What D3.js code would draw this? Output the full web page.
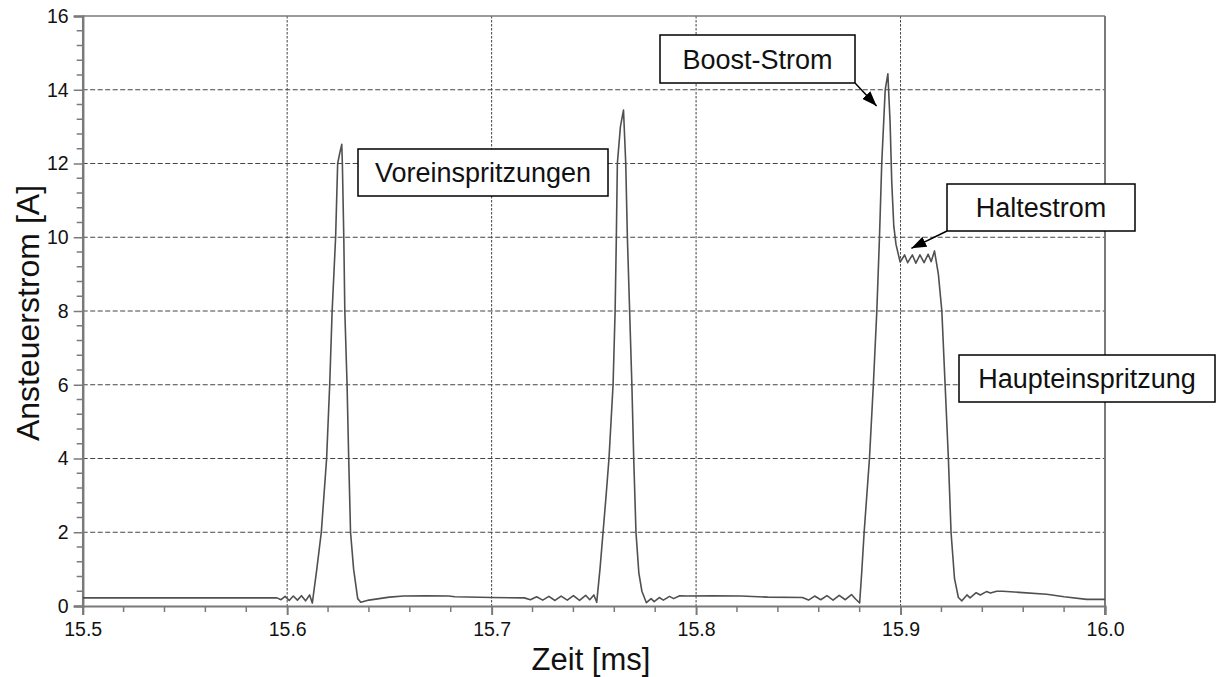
<!DOCTYPE html>
<html>
<head>
<meta charset="utf-8">
<script src="https://cdn.jsdelivr.net/npm/d3@7/dist/d3.min.js"></script>
<style>
  html, body { margin: 0; padding: 0; background: #ffffff; }
  svg { display: block; }
  text { font-family: "Liberation Sans", Arial, sans-serif; fill: #111; }
</style>
</head>
<body>
<svg id="chart" width="1216" height="677"></svg>
<script>
// Injector drive current, sampled trace (time in ms, current in A)
const timeMs = [
  15.500, 15.595, 15.597, 15.599, 15.601, 15.603, 15.605, 15.607, 15.609, 15.611, 15.6123,
  15.6145, 15.6167, 15.618, 15.6193, 15.6208, 15.622, 15.6237, 15.6247, 15.6258, 15.6267,
  15.6270, 15.6277, 15.6282, 15.6293, 15.6301, 15.631, 15.6325, 15.6345, 15.636,
  15.640, 15.645, 15.650, 15.657, 15.668, 15.679, 15.682, 15.700, 15.716,
  15.719, 15.722, 15.725, 15.728, 15.731, 15.734, 15.737, 15.740, 15.743, 15.746, 15.748, 15.750, 15.7514,
  15.753, 15.7545, 15.756, 15.7574, 15.7594, 15.7604, 15.761, 15.7615, 15.763, 15.7645,
  15.7656, 15.7664, 15.7675, 15.7686, 15.7695, 15.7706, 15.772, 15.7735, 15.7757,
  15.778, 15.7795, 15.782, 15.784, 15.787, 15.789, 15.792, 15.7955, 15.808, 15.822, 15.835, 15.852,
  15.855, 15.858, 15.861, 15.864, 15.867, 15.870, 15.873, 15.876, 15.878, 15.880,
  15.881, 15.8822, 15.8848, 15.8867, 15.8884, 15.8897, 15.8908, 15.8925, 15.8938,
  15.8949, 15.8957, 15.8967, 15.8978, 15.8998,
  15.9020, 15.9035, 15.9058, 15.9075, 15.9095, 15.9115, 15.9135, 15.9150, 15.9166,
  15.9185, 15.9202, 15.9218, 15.9234, 15.9247, 15.9264, 15.9283, 15.9300,
  15.9325, 15.934, 15.937, 15.939, 15.942, 15.944, 15.947, 15.950, 15.958, 15.9715, 15.980, 15.991, 16.000
];
const currentA = [
  0.22, 0.22, 0.17, 0.26, 0.15, 0.27, 0.16, 0.28, 0.14, 0.30, 0.08,
  1.0, 2.0, 3.0, 4.0, 6.0, 8.0, 10.0, 12.0, 12.3, 12.52,
  12.0, 10.0, 8.0, 6.0, 4.0, 2.0, 1.0, 0.2, 0.1,
  0.16, 0.20, 0.24, 0.27, 0.28, 0.27, 0.25, 0.23, 0.22,
  0.17, 0.25, 0.16, 0.26, 0.15, 0.27, 0.16, 0.28, 0.15, 0.29, 0.17, 0.30, 0.10,
  1.0, 2.0, 3.0, 4.0, 6.0, 8.0, 10.0, 12.0, 13.0, 13.45,
  12.0, 10.0, 8.0, 6.0, 4.0, 2.0, 0.9, 0.4, 0.09,
  0.20, 0.12, 0.23, 0.16, 0.26, 0.20, 0.28, 0.27, 0.28, 0.27, 0.24, 0.23,
  0.16, 0.27, 0.17, 0.28, 0.16, 0.29, 0.17, 0.31, 0.19, 0.08,
  0.9, 2.0, 4.0, 6.0, 8.0, 10.0, 12.0, 14.0, 14.43,
  13.1, 11.5, 10.3, 9.8, 9.33,
  9.52, 9.31, 9.52, 9.30, 9.52, 9.31, 9.54, 9.34, 9.63,
  9.0, 8.0, 6.0, 4.0, 2.0, 0.74, 0.23, 0.14,
  0.30, 0.22, 0.36, 0.30, 0.39, 0.35, 0.40, 0.40, 0.37, 0.32, 0.25, 0.18, 0.18
];

// Axis ticks
const xTicks = [15.5, 15.6, 15.7, 15.8, 15.9, 16.0];
const xTickLabels = ["15.5", "15.6", "15.7", "15.8", "15.9", "16.0"];
const yTicks = [0, 2, 4, 6, 8, 10, 12, 14, 16];
const yTickLabels = ["0", "2", "4", "6", "8", "10", "12", "14", "16"];

// Callout labels and the points their arrows point to (null = no arrow)
const calloutLabels = ["Voreinspritzungen", "Boost-Strom", "Haltestrom", "Haupteinspritzung"];
const calloutTargets = [null, [15.8883, 13.56], [15.9053, 9.70], null];

const xTitle = "Zeit [ms]";
const yTitle = "Ansteuerstrom [A]";

// ---------- layout ----------
const plot = { left: 82.7, right: 1105, top: 16, bottom: 606 };
const boxes = [
  { x: 358, y: 149, w: 250, h: 47 },
  { x: 660, y: 35,  w: 195, h: 48, from: "br" },
  { x: 947, y: 184, w: 188, h: 47, from: "bl" },
  { x: 959, y: 355, w: 256, h: 47 }
];

const svg = d3.select("#chart");
const x = d3.scaleLinear().domain([15.5, 16.0]).range([plot.left, plot.right]);
const y = d3.scaleLinear().domain([0, 16]).range([plot.bottom, plot.top]);

const axisColor = "#7a7a7a";
const gridColor = "#444444";

// grid
svg.append("g").selectAll("line")
  .data(yTicks.filter(v => v > 0 && v < 16))
  .join("line")
  .attr("x1", plot.left).attr("x2", plot.right)
  .attr("y1", d => y(d)).attr("y2", d => y(d))
  .attr("stroke", gridColor).attr("stroke-width", 1)
  .attr("stroke-dasharray", "5,2.5");
svg.append("g").selectAll("line")
  .data(xTicks.filter(v => v > 15.5 && v < 16.0))
  .join("line")
  .attr("x1", d => x(d)).attr("x2", d => x(d))
  .attr("y1", plot.top).attr("y2", plot.bottom)
  .attr("stroke", gridColor).attr("stroke-width", 1)
  .attr("stroke-dasharray", "2.5,1.5");

// frame: top and right
svg.append("line").attr("x1", plot.left).attr("x2", plot.right)
  .attr("y1", plot.top).attr("y2", plot.top)
  .attr("stroke", axisColor).attr("stroke-width", 1.5);
svg.append("line").attr("x1", plot.right).attr("x2", plot.right)
  .attr("y1", plot.top).attr("y2", plot.bottom + 9)
  .attr("stroke", axisColor).attr("stroke-width", 2);

// x axis with minor ticks
const xMinor = d3.range(0, 26).map(i => 15.5 + i * 0.02).filter(v => !xTicks.some(t => Math.abs(t - v) < 1e-6));
const xAxis = d3.axisBottom(x).tickValues(xTicks).tickFormat((d, i) => xTickLabels[i]).tickSize(9).tickPadding(7);
const gx = svg.append("g").attr("transform", `translate(0,${plot.bottom})`).call(xAxis);
gx.select(".domain").attr("stroke", axisColor).attr("stroke-width", 2);
gx.selectAll(".tick line").attr("stroke", axisColor).attr("stroke-width", 2);
gx.selectAll(".tick text").attr("font-size", 19.5).attr("fill", "#111")
  .attr("font-family", "'Liberation Sans', Arial, sans-serif");
svg.append("g").attr("transform", `translate(0,${plot.bottom})`)
  .selectAll("line").data(xMinor).join("line")
  .attr("x1", d => x(d)).attr("x2", d => x(d))
  .attr("y1", 0).attr("y2", 6)
  .attr("stroke", axisColor).attr("stroke-width", 1.5);

// y axis with minor ticks
const yMinor = d3.range(0, 41).map(i => i * 0.4).filter(v => !yTicks.some(t => Math.abs(t - v) < 1e-6));
const yAxis = d3.axisLeft(y).tickValues(yTicks).tickFormat((d, i) => yTickLabels[i]).tickSize(9).tickPadding(5);
const gy = svg.append("g").attr("transform", `translate(${plot.left},0)`).call(yAxis);
gy.select(".domain").attr("stroke", axisColor).attr("stroke-width", 2.5);
gy.selectAll(".tick line").attr("stroke", axisColor).attr("stroke-width", 1.5);
gy.selectAll(".tick text").attr("font-size", 19.5).attr("fill", "#111")
  .attr("font-family", "'Liberation Sans', Arial, sans-serif");
svg.append("g").attr("transform", `translate(${plot.left},0)`)
  .selectAll("line").data(yMinor).join("line")
  .attr("x1", -6).attr("x2", 0)
  .attr("y1", d => y(d)).attr("y2", d => y(d))
  .attr("stroke", axisColor).attr("stroke-width", 1.5);

// current trace
const points = timeMs.map((t, i) => [t, currentA[i]]);
svg.append("path")
  .datum(points)
  .attr("d", d3.line().x(d => x(d[0])).y(d => y(d[1])))
  .attr("fill", "none")
  .attr("stroke", "#505050")
  .attr("stroke-width", 1.6)
  .attr("stroke-linejoin", "round");

// axis titles
svg.append("text").attr("x", 591).attr("y", 670)
  .attr("text-anchor", "middle").attr("font-size", 31).text(xTitle);
svg.append("text")
  .attr("transform", `translate(39,${(plot.top + plot.bottom) / 2 + 2}) rotate(-90)`)
  .attr("text-anchor", "middle").attr("font-size", 32).text(yTitle);

// arrowhead
svg.append("defs").append("marker")
  .attr("id", "arrowhead")
  .attr("viewBox", "0 0 15 11").attr("refX", 15).attr("refY", 5.5)
  .attr("markerWidth", 15).attr("markerHeight", 11)
  .attr("markerUnits", "userSpaceOnUse")
  .attr("orient", "auto")
  .append("path").attr("d", "M0,0 L15,5.5 L0,11 Z").attr("fill", "#000");

// callouts
calloutLabels.forEach((label, i) => {
  const b = boxes[i];
  const tgt = calloutTargets[i];
  if (tgt) {
    const sx = b.from === "br" ? b.x + b.w : b.x;
    const sy = b.y + b.h;
    svg.append("line")
      .attr("x1", sx).attr("y1", sy)
      .attr("x2", x(tgt[0])).attr("y2", y(tgt[1]))
      .attr("stroke", "#000").attr("stroke-width", 1.5)
      .attr("marker-end", "url(#arrowhead)");
  }
  svg.append("rect")
    .attr("x", b.x).attr("y", b.y).attr("width", b.w).attr("height", b.h)
    .attr("fill", "#fff").attr("stroke", "#000").attr("stroke-width", 1.5);
  svg.append("text")
    .attr("x", b.x + b.w / 2).attr("y", b.y + b.h / 2 + 9.5)
    .attr("text-anchor", "middle").attr("font-size", 27).text(label);
});
</script>
</body>
</html>
